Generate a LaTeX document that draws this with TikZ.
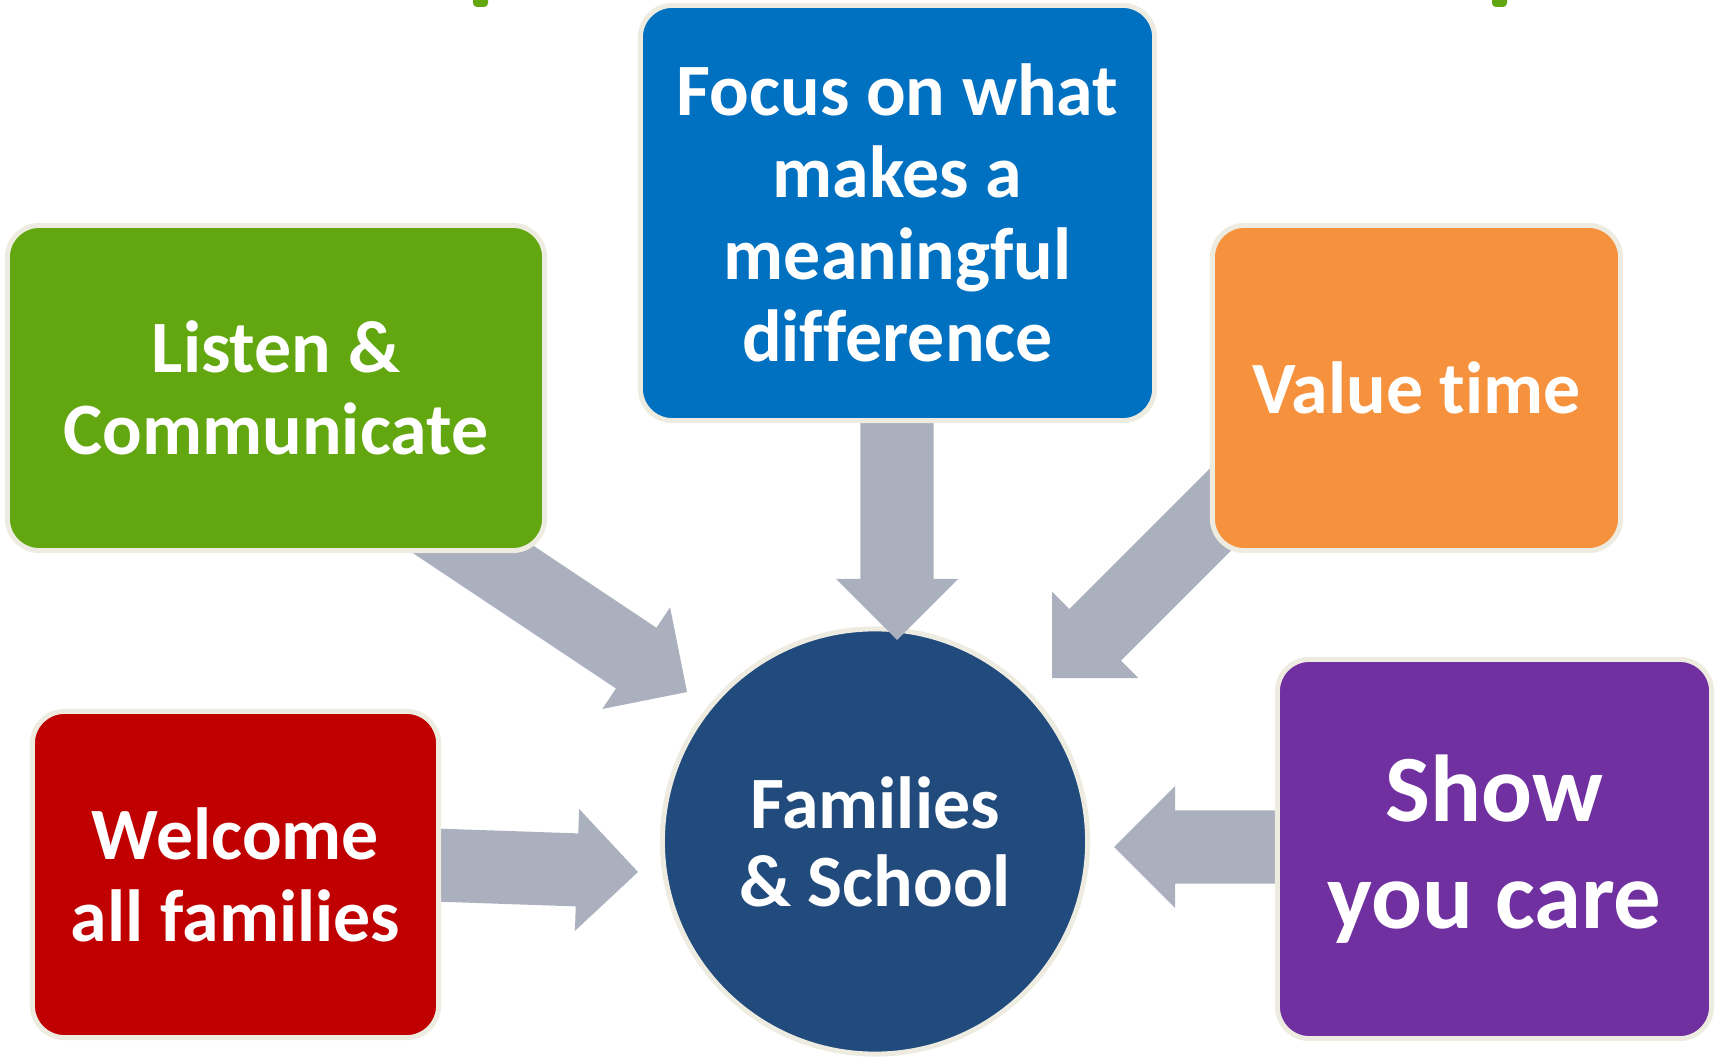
\documentclass[tikz,border=0pt]{standalone}
\usepackage{fontspec}
\setmainfont{Carlito}[Ligatures=NoCommon]
\usetikzlibrary{calc}

\definecolor{listengreen}{RGB}{98,166,16}
\definecolor{focusblue}{RGB}{0,112,192}
\definecolor{valueorange}{RGB}{246,146,62}
\definecolor{welcomered}{RGB}{192,0,0}
\definecolor{carepurple}{RGB}{112,48,160}
\definecolor{hubnavy}{RGB}{33,74,125}
\definecolor{rimcream}{RGB}{238,236,225}
\definecolor{arrowgray}{RGB}{171,176,190}

\tikzset{
  box/.style={rectangle, rounded corners=0.32cm, draw=rimcream, line width=0.05cm,
    inner sep=0pt, align=center, text=white,
    font=\fontsize{21}{23.3}\selectfont\bfseries},
  hub/.style={circle, draw=rimcream, line width=0.05cm, fill=hubnavy, inner sep=0pt,
    minimum size=4.25cm, align=center, text=white,
    font=\fontsize{21}{22.2}\selectfont\bfseries},
}

% block arrow from #1 to tip #2
\newcommand{\blockarrow}[2]{%
  \coordinate (hb) at ($(#2)!0.61cm!(#1)$);
  \fill[arrowgray] ($(#1)!0.365cm!90:(#2)$) -- ($(hb)!0.365cm!90:(#2)$)
    -- ($(hb)!0.61cm!90:(#2)$) -- (#2) -- ($(hb)!0.61cm!-90:(#2)$)
    -- ($(hb)!0.365cm!-90:(#2)$) -- ($(#1)!0.365cm!-90:(#2)$) -- cycle;
}

\begin{document}
\begin{tikzpicture}[x=0.01cm, y=-0.01cm]
  \useasboundingbox (0,0) rectangle (1715,1058);

  % bits of the title above
  \fill[listengreen, rounded corners=0.04cm] (473,-10) rectangle (488,7);
  \fill[listengreen, rounded corners=0.04cm] (1492,-10) rectangle (1507,7);

  % centre
  \node[hub] (hub) at (875,841.5) {Families\\\& School};

  % arrows
  \coordinate (listen-out) at (429,520);
  \coordinate (listen-tip) at (687,692);
  \coordinate (focus-out) at (897,400);
  \coordinate (focus-tip) at (897,640);
  \coordinate (value-out) at (1250,480);
  \coordinate (value-tip) at (1052,678);
  \coordinate (welcome-out) at (420,864.5);
  \coordinate (welcome-tip) at (638,872);
  \coordinate (care-out) at (1290,847);
  \coordinate (care-tip) at (1114,847);

  \blockarrow{listen-out}{listen-tip}
  \blockarrow{focus-out}{focus-tip}
  \blockarrow{value-out}{value-tip}
  \blockarrow{welcome-out}{welcome-tip}
  \blockarrow{care-out}{care-tip}

  % boxes
  \node[box, fill=listengreen, minimum width=5.37cm, minimum height=3.25cm]
    (listen) at (276,388) {Listen \&\\Communicate};
  \node[box, fill=focusblue, minimum width=5.14cm, minimum height=4.15cm]
    (focus) at (897.5,213) {Focus on what\\makes a\\meaningful\\difference};
  \node[box, fill=valueorange, minimum width=4.08cm, minimum height=3.25cm]
    (value) at (1416.5,388) {Value time};
  \node[box, fill=welcomered, minimum width=4.06cm, minimum height=3.26cm]
    (welcome) at (235.5,874.5) {Welcome\\all families};
  \node[box, fill=carepurple, minimum width=4.34cm, minimum height=3.79cm,
    font=\fontsize{27}{30.4}\selectfont\bfseries]
    (care) at (1494.5,849) {Show\\you care};
\end{tikzpicture}
\end{document}
